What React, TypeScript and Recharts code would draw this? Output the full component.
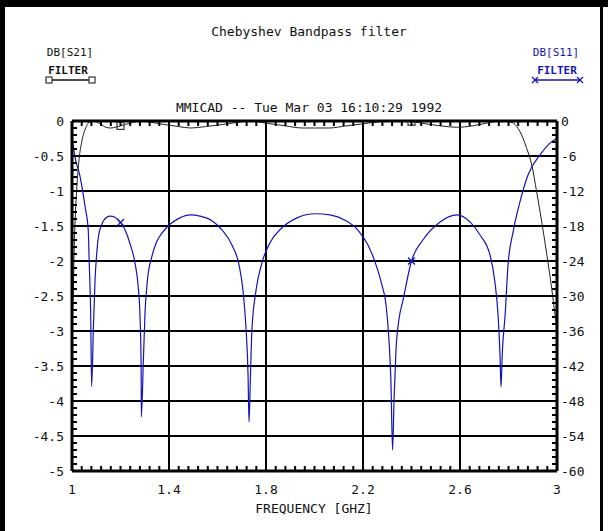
import React from 'react';
import { ComposedChart, Line, XAxis, YAxis, ReferenceLine } from 'recharts';

const W = 608;
const H = 531;

const titleText = 'Chebyshev Bandpass filter';
const subtitleText = 'MMICAD -- Tue Mar 03 16:10:29 1992';
const xLabel = 'FREQUENCY [GHZ]';
const legendLeftName = 'DB[S21]';
const legendRightName = 'DB[S11]';
const legendSub = 'FILTER';

const xMajorTicks = [1, 1.4, 1.8, 2.2, 2.6, 3];
const leftMajorTicks = [0, -0.5, -1, -1.5, -2, -2.5, -3, -3.5, -4, -4.5, -5];
const rightMajorTicks = [0, -6, -12, -18, -24, -30, -36, -42, -48, -54, -60];
const markerFreqs = [1.2, 2.4];

// minor tick positions (axis decoration)
const xMinorTicks = Array.from({ length: 51 }, (_, i) => +(1 + i * 0.04).toFixed(2));
const leftMinorTicks = Array.from({ length: 51 }, (_, i) => +(-i * 0.1).toFixed(1));
const rightMinorTicks = Array.from({ length: 51 }, (_, i) => +(-i * 1.2).toFixed(1));

// DB[S21] (left axis)
const s21Freq = [1.0, 1.002, 1.006, 1.008, 1.012, 1.019, 1.029, 1.04, 1.054, 1.067, 1.08, 1.1, 1.12, 1.14, 1.16, 1.18, 1.2, 1.22, 1.25, 1.29, 1.33, 1.38, 1.44, 1.49, 1.55, 1.62, 1.68, 1.73, 1.8, 1.88, 1.95, 2.0, 2.06, 2.13, 2.2, 2.27, 2.32, 2.4, 2.46, 2.52, 2.59, 2.65, 2.71, 2.77, 2.8, 2.82, 2.847, 2.875, 2.896, 2.916, 2.937, 2.958, 2.978, 2.992, 3.0];
const s21Db = [-3.3, -2.8, -2.4, -2.0, -1.5, -1.0, -0.55, -0.3, -0.12, -0.03, 0, -0.01, -0.05, -0.09, -0.1, -0.09, -0.07, -0.05, -0.02, 0, -0.02, -0.05, -0.08, -0.1, -0.08, -0.05, -0.02, 0, -0.03, -0.07, -0.1, -0.1, -0.1, -0.07, -0.04, -0.01, 0, -0.01, -0.04, -0.07, -0.09, -0.07, -0.03, 0, -0.01, -0.03, -0.15, -0.39, -0.63, -1.01, -1.44, -1.91, -2.39, -2.77, -3.0];

// DB[S11] (right axis)
const s11Freq = [1.0, 1.012, 1.033, 1.054, 1.067, 1.071, 1.077, 1.081, 1.088, 1.095, 1.102, 1.109, 1.122, 1.143, 1.157, 1.177, 1.2, 1.219, 1.239, 1.26, 1.273, 1.28, 1.285, 1.286, 1.294, 1.301, 1.311, 1.329, 1.349, 1.375, 1.404, 1.445, 1.487, 1.528, 1.577, 1.619, 1.66, 1.689, 1.705, 1.718, 1.726, 1.73, 1.736, 1.742, 1.759, 1.784, 1.816, 1.866, 1.928, 2.002, 2.064, 2.126, 2.179, 2.221, 2.254, 2.278, 2.295, 2.307, 2.315, 2.322, 2.328, 2.336, 2.348, 2.365, 2.4, 2.447, 2.518, 2.588, 2.641, 2.682, 2.724, 2.744, 2.757, 2.765, 2.769, 2.775, 2.786, 2.798, 2.819, 2.847, 2.88, 2.93, 2.971, 3.0];
const s11Db = [-2.7, -6.1, -9.5, -14.7, -18.7, -24.3, -32.9, -45.5, -35.8, -27.3, -22.7, -19.8, -17.8, -16.5, -16.3, -16.5, -17.4, -18.7, -21.0, -24.4, -28.4, -33.0, -41.5, -50.7, -41.5, -33.0, -27.3, -23.3, -20.7, -19.0, -17.7, -16.6, -16.1, -16.3, -17.1, -18.7, -21.3, -24.7, -29.0, -35.8, -43.5, -51.6, -43.5, -35.8, -29.0, -24.2, -20.9, -18.3, -16.6, -15.9, -16.1, -17.0, -18.7, -21.3, -24.7, -28.1, -31.5, -37.5, -44.4, -56.4, -47.8, -39.3, -34.1, -30.7, -24.0, -20.4, -17.3, -16.1, -17.3, -19.5, -23.0, -27.6, -33.3, -40.1, -45.6, -39.3, -33.3, -24.7, -19.0, -13.9, -9.3, -5.8, -3.8, -2.9];

const s21Data = s21Freq.map((f, i) => ({ f, db: s21Db[i] }));
const s11Data = s11Freq.map((f, i) => ({ f, db: s11Db[i] }));

const BLUE = '#1414b8';
const FONT = '"DejaVu Sans Mono", "Liberation Mono", monospace';

const isIn = (v: number, list: number[]) => list.some((m) => Math.abs(m - v) < 1e-6);

const LeftTick = (props: any) => {
  const { x, y, payload } = props;
  const v = payload.value;
  return (
    <g>
      <line x1={x} x2={x + 5} y1={y} y2={y} stroke="#000" strokeWidth={2} />
      {isIn(v, leftMajorTicks) && (
        <text x={x - 8} y={y} dy="0.36em" textAnchor="end" fontFamily={FONT} fontSize={13} fill="#111">
          {String(v)}
        </text>
      )}
    </g>
  );
};

const RightTick = (props: any) => {
  const { x, y, payload } = props;
  const v = payload.value;
  return (
    <g>
      <line x1={x} x2={x - 5} y1={y} y2={y} stroke="#000" strokeWidth={2} />
      {isIn(v, rightMajorTicks) && (
        <text x={x + 4} y={y} dy="0.36em" textAnchor="start" fontFamily={FONT} fontSize={13} fill="#111">
          {String(v)}
        </text>
      )}
    </g>
  );
};

const BottomTick = (props: any) => {
  const { x, y, payload } = props;
  const v = payload.value;
  return (
    <g>
      <line x1={x} x2={x} y1={y} y2={y - 5} stroke="#000" strokeWidth={2} />
      {isIn(v, xMajorTicks) && (
        <text x={x} y={y + 18} dy="0.36em" textAnchor="middle" fontFamily={FONT} fontSize={13} fill="#111">
          {String(v)}
        </text>
      )}
    </g>
  );
};

const TopTick = (props: any) => {
  const { x, y } = props;
  return (
    <g>
      <line x1={x} x2={x} y1={y} y2={y + 5} stroke="#000" strokeWidth={2} />
    </g>
  );
};

const SquareDot = (props: any) => {
  const { cx, cy, payload, index } = props;
  if (!payload || !isIn(payload.f, markerFreqs)) return <g key={`s${index}`} />;
  return <rect key={`s${index}`} x={cx - 3.5} y={cy - 3.5} width={7} height={7} fill="none" stroke="#333" strokeWidth={1.2} />;
};

const CrossDot = (props: any) => {
  const { cx, cy, payload, index } = props;
  if (!payload || !isIn(payload.f, markerFreqs)) return <g key={`c${index}`} />;
  return (
    <g key={`c${index}`} stroke={BLUE} strokeWidth={1.3}>
      <line x1={cx - 3.5} y1={cy - 3.5} x2={cx + 3.5} y2={cy + 3.5} />
      <line x1={cx - 3.5} y1={cy + 3.5} x2={cx + 3.5} y2={cy - 3.5} />
    </g>
  );
};

export default function App() {
  return (
    <div style={{ position: 'absolute', left: 0, top: 0, width: W, height: H, background: '#fff', overflow: 'hidden' }}>
      <div style={{ position: 'absolute', left: 0, top: 0 }}>
        <ComposedChart width={W} height={H} margin={{ top: 120, right: 0, bottom: 0, left: 0 }}>
          <XAxis
            xAxisId="bottom"
            type="number"
            dataKey="f"
            domain={[1, 3]}
            allowDataOverflow
            ticks={xMinorTicks}
            interval={0}
            tickSize={0}
            tickMargin={0}
            tickLine={false}
            axisLine={{ stroke: '#000', strokeWidth: 3 }}
            height={60}
            tick={<BottomTick />}
          />
          <XAxis
            xAxisId="top"
            orientation="top"
            type="number"
            dataKey="f"
            domain={[1, 3]}
            allowDataOverflow
            ticks={xMinorTicks}
            interval={0}
            tickSize={0}
            tickMargin={0}
            tickLine={false}
            axisLine={{ stroke: '#000', strokeWidth: 3 }}
            height={1}
            tick={<TopTick />}
          />
          <YAxis
            yAxisId="left"
            type="number"
            domain={[-5, 0]}
            allowDataOverflow
            ticks={leftMinorTicks}
            interval={0}
            tickSize={0}
            tickMargin={0}
            tickLine={false}
            axisLine={{ stroke: '#000', strokeWidth: 3 }}
            width={72}
            tick={<LeftTick />}
          />
          <YAxis
            yAxisId="right"
            orientation="right"
            type="number"
            domain={[-60, 0]}
            allowDataOverflow
            ticks={rightMinorTicks}
            interval={0}
            tickSize={0}
            tickMargin={0}
            tickLine={false}
            axisLine={{ stroke: '#000', strokeWidth: 3 }}
            width={51}
            tick={<RightTick />}
          />
          {leftMajorTicks.slice(1, -1).map((v) => (
            <ReferenceLine key={`h${v}`} xAxisId="bottom" yAxisId="left" y={v} stroke="#000" strokeWidth={2} />
          ))}
          {xMajorTicks.slice(1, -1).map((v) => (
            <ReferenceLine key={`v${v}`} xAxisId="bottom" yAxisId="left" x={v} stroke="#000" strokeWidth={2} />
          ))}
          <Line
            xAxisId="bottom"
            yAxisId="left"
            data={s21Data}
            dataKey="db"
            type="monotone"
            stroke="#222"
            strokeWidth={1}
            dot={(p: any) => <SquareDot {...p} />}
            activeDot={false}
            isAnimationActive={false}
          />
          <Line
            xAxisId="top"
            yAxisId="right"
            data={s11Data}
            dataKey="db"
            type="monotone"
            stroke={BLUE}
            strokeWidth={1.2}
            dot={(p: any) => <CrossDot {...p} />}
            activeDot={false}
            isAnimationActive={false}
          />
        </ComposedChart>
      </div>
      <svg width={W} height={H} style={{ position: 'absolute', left: 0, top: 0, pointerEvents: 'none' }}>
        <rect x={0} y={0} width={W} height={7} fill="#000" />
        <rect x={0} y={0} width={5} height={H} fill="#000" />
        <rect x={600} y={7} width={3} height={H} fill="#000" />
        <text x={309} y={31} dy="0.36em" textAnchor="middle" fontFamily={FONT} fontSize={13} fill="#111">{titleText}</text>
        <text x={309} y={107} dy="0.36em" textAnchor="middle" fontFamily={FONT} fontSize={13} fill="#111">{subtitleText}</text>
        <text x={314} y={508} dy="0.36em" textAnchor="middle" fontFamily={FONT} fontSize={13} fill="#111">{xLabel}</text>
        <text x={70} y={52} dy="0.36em" textAnchor="middle" fontFamily={FONT} fontSize={11} fill="#111">{legendLeftName}</text>
        <text x={68} y={70} dy="0.36em" textAnchor="middle" fontFamily={FONT} fontSize={11} fontWeight="bold" fill="#111">{legendSub}</text>
        <line x1={49} y1={80} x2={92} y2={80} stroke="#111" strokeWidth={1.5} />
        <rect x={46} y={77} width={6} height={6} fill="#fff" stroke="#333" strokeWidth={1.2} />
        <rect x={89} y={77} width={6} height={6} fill="#fff" stroke="#333" strokeWidth={1.2} />
        <text x={556} y={52} dy="0.36em" textAnchor="middle" fontFamily={FONT} fontSize={11} fill={BLUE}>{legendRightName}</text>
        <text x={557} y={70} dy="0.36em" textAnchor="middle" fontFamily={FONT} fontSize={11} fontWeight="bold" fill={BLUE}>{legendSub}</text>
        <line x1={535} y1={80} x2={580} y2={80} stroke={BLUE} strokeWidth={1.5} />
        <g stroke={BLUE} strokeWidth={1.2}>
          <line x1={532} y1={77} x2={538} y2={83} />
          <line x1={532} y1={83} x2={538} y2={77} />
          <line x1={577} y1={77} x2={583} y2={83} />
          <line x1={577} y1={83} x2={583} y2={77} />
        </g>
      </svg>
    </div>
  );
}
